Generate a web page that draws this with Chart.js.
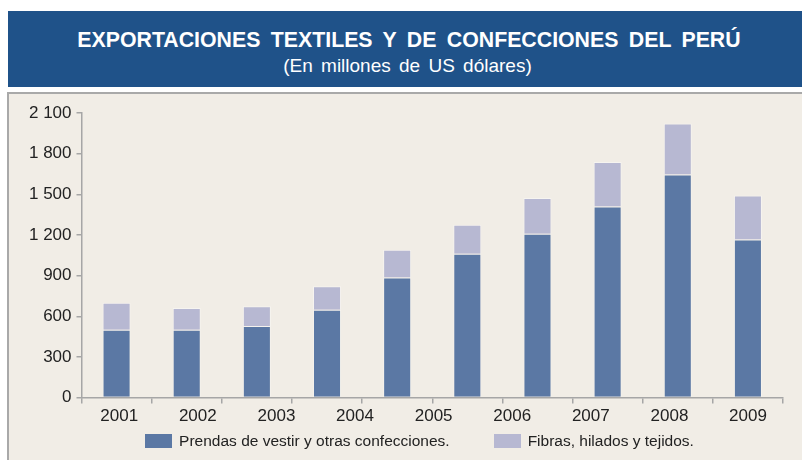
<!DOCTYPE html>
<html lang="es">
<head>
<meta charset="utf-8">
<title>Exportaciones textiles y de confecciones del Perú</title>
<script src="https://cdn.jsdelivr.net/npm/chart.js@4.4.1/dist/chart.umd.min.js"></script>
<style>
  html, body { margin: 0; padding: 0; background: #fff; }
  body { width: 802px; height: 460px; position: relative; overflow: hidden; font-family: 'Liberation Sans', Arial, sans-serif; }
  .header {
    position: absolute; left: 8px; top: 11px; width: 794px; height: 76px;
    background: #1f5289; color: #fff; text-align: center;
  }
  .header h1 { margin: 0; padding: 17px 0 0 8px; font-size: 21.3px; font-weight: bold; word-spacing: 4.5px; }
  .header p { margin: 2px 0 0; padding-left: 5px; font-size: 19px; word-spacing: 3px; }
  .panel {
    position: absolute; left: 7px; top: 92px; width: 793px; height: 366px;
    background: #f1ede6; border-left: 2px solid #a9a9a9; border-top: 2px solid #a9a9a9;
  }
  .panel canvas { position: absolute; left: 0; top: 0; }
  #legend {
    position: absolute; left: 0; right: 0; top: 338px;
    display: flex; justify-content: center; gap: 44px; font-size: 15.5px; color: #222;
    padding-left: 28px;
  }
  #legend span.item { display: flex; align-items: center; }
  #legend span.box { display: inline-block; width: 27px; height: 14px; margin-right: 7px; }
</style>
</head>
<body>
<div class="header">
  <h1>EXPORTACIONES TEXTILES Y DE CONFECCIONES DEL PERÚ</h1>
  <p>(En millones de US dólares)</p>
</div>
<div class="panel">
  <canvas id="exportChart" width="793" height="366"></canvas>
  <div id="legend"></div>
</div>
<script>
// barras (una por año; el eje muestra solo 2001-2009 como en el original)
const barYears = ['2000', '2001', '2002', '2003', '2004', '2005', '2006', '2007', '2008', '2009'];
const prendas = [500, 500, 528, 649, 886, 1061, 1209, 1411, 1646, 1167];
const fibras = [200, 162, 146, 172, 205, 215, 264, 328, 377, 325];
const xTickLabels = ['2001', '2002', '2003', '2004', '2005', '2006', '2007', '2008', '2009'];
const yTicks = [0, 300, 600, 900, 1200, 1500, 1800, 2100];

const AXIS = '#a6a6a6';
const FONT = "'Liberation Sans', Arial, sans-serif";

const fmtMiles = v => String(v).replace(/\B(?=(\d{3})+(?!\d))/g, ' ');

const chart = new Chart(document.getElementById('exportChart'), {
    type: 'bar',
    data: {
        labels: barYears,
        datasets: [{
            label: 'Prendas de vestir y otras confecciones.',
            data: prendas,
            backgroundColor: '#5b78a4',
            borderColor: 'rgba(255,255,255,0.3)',
            borderWidth: 1,
            barPercentage: 0.4,
            categoryPercentage: 1
        }, {
            label: 'Fibras, hilados y tejidos.',
            data: fibras,
            backgroundColor: '#b7b8d2',
            borderColor: 'rgba(255,255,255,0.4)',
            borderWidth: 1,
            barPercentage: 0.4,
            categoryPercentage: 1
        }]
    },
    options: {
        responsive: false,
        animation: false,
        layout: { padding: { top: 19, right: 19, bottom: 30, left: 0 } },
        plugins: { legend: { display: false }, tooltip: { enabled: false } },
        scales: {
            x: {
                stacked: true,
                offset: true,
                weight: 0,
                grid: { drawOnChartArea: false, color: AXIS, lineWidth: 1.5, tickLength: 6, offset: true },
                border: { color: AXIS, width: 1.5 },
                ticks: { display: false }
            },
            // eje solo para las etiquetas de años, repartidas de la primera a la última barra
            x2: {
                type: 'linear',
                position: 'bottom',
                weight: 1,
                offset: false,
                bounds: 'data',
                min: 2000.52,
                max: 2009.445,
                grid: { display: false, drawTicks: false, offset: false },
                border: { display: false },
                afterBuildTicks: s => { s.ticks = xTickLabels.map(l => ({ value: Number(l) })); },
                ticks: { padding: 3, color: '#222', font: { family: FONT, size: 17 }, callback: v => String(v) }
            },
            y: {
                stacked: true,
                min: 0,
                max: 2100,
                afterBuildTicks: s => { s.ticks = yTicks.map(v => ({ value: v })); },
                afterFit: s => { s.width = 72.5; },
                grid: { drawOnChartArea: false, color: AXIS, lineWidth: 1.5, tickLength: 5 },
                border: { color: AXIS, width: 1.5 },
                ticks: { padding: 5, color: '#222', font: { family: FONT, size: 17 }, callback: v => fmtMiles(v) }
            }
        }
    }
});

// leyenda HTML a partir de los datasets
document.getElementById('legend').innerHTML = chart.data.datasets.map(ds =>
    `<span class="item"><span class="box" style="background:${ds.backgroundColor}"></span>${ds.label}</span>`
).join('');
</script>
</body>
</html>
